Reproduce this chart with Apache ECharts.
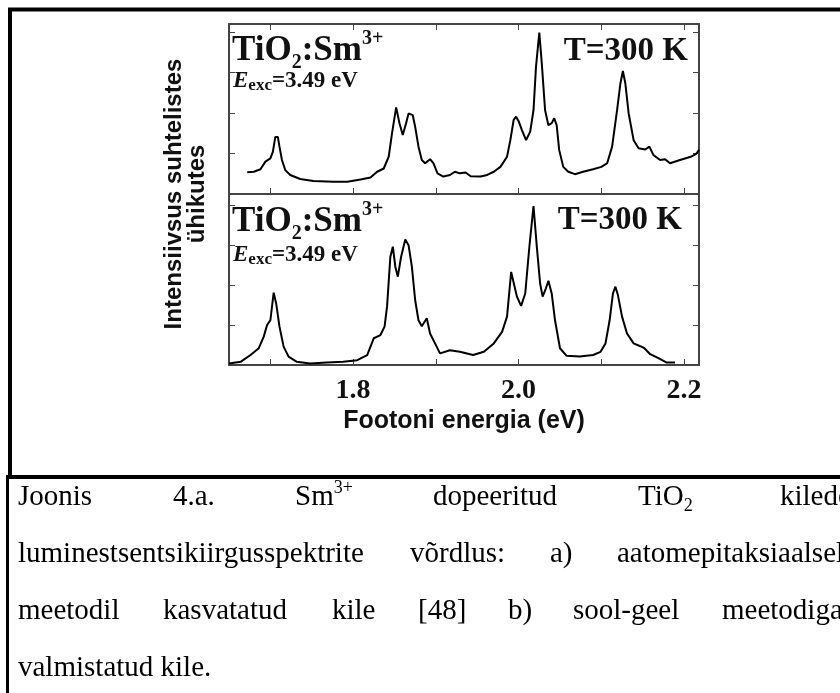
<!DOCTYPE html>
<html>
<head>
<meta charset="utf-8">
<script src="https://cdn.jsdelivr.net/npm/echarts/dist/echarts.min.js"></script>
<style>
html, body { margin: 0; padding: 0; background: #fff; }
#main { width: 840px; height: 693px; }
</style>
</head>
<body>
<div id="main"></div>
<script>
// spectra: photon energy (eV) / intensity (rel. units)
var topEnergy = [1.672, 1.680, 1.688, 1.694, 1.700, 1.703, 1.706, 1.709, 1.711, 1.714, 1.718, 1.724, 1.736, 1.752,
  1.776, 1.793, 1.809, 1.821, 1.829, 1.837, 1.843, 1.847, 1.852, 1.856, 1.860, 1.864, 1.867, 1.872, 1.875, 1.879,
  1.883, 1.887, 1.893, 1.897, 1.902, 1.909, 1.917, 1.923, 1.929, 1.936, 1.942, 1.954, 1.962, 1.970, 1.978, 1.986,
  1.990, 1.994, 1.997, 2.000, 2.004, 2.009, 2.014, 2.018, 2.021, 2.025, 2.028, 2.032, 2.036, 2.040, 2.043, 2.046,
  2.049, 2.054, 2.060, 2.068, 2.078, 2.090, 2.100, 2.107, 2.113, 2.119, 2.123, 2.126, 2.129, 2.133, 2.139, 2.145,
  2.153, 2.158, 2.163, 2.171, 2.177, 2.183, 2.195, 2.208, 2.215, 2.218];
var topIntensity = [0.54, 0.55, 0.61, 0.80, 0.88, 1.04, 1.41, 1.41, 1.17, 0.84, 0.59, 0.47, 0.37, 0.32,
  0.30, 0.30, 0.36, 0.41, 0.55, 0.63, 0.92, 1.50, 2.14, 1.75, 1.46, 1.75, 1.99, 1.95, 1.66, 1.17,
  0.84, 0.76, 0.86, 0.76, 0.51, 0.43, 0.47, 0.55, 0.51, 0.53, 0.44, 0.43, 0.47, 0.55, 0.67, 0.92,
  1.33, 1.83, 1.91, 1.80, 1.58, 1.33, 1.54, 2.07, 3.14, 3.99, 3.23, 2.07, 1.70, 1.75, 1.87, 1.70,
  1.09, 0.67, 0.55, 0.49, 0.55, 0.61, 0.67, 0.76, 1.17, 2.07, 2.73, 3.04, 2.73, 1.99, 1.33, 1.13,
  1.10, 1.17, 0.96, 0.84, 0.86, 0.76, 0.84, 0.92, 1.00, 1.09];

var bottomEnergy = [1.650, 1.664, 1.676, 1.686, 1.692, 1.696, 1.700, 1.704, 1.707, 1.711, 1.716, 1.722, 1.732, 1.748,
  1.768, 1.788, 1.805, 1.817, 1.825, 1.833, 1.838, 1.841, 1.845, 1.848, 1.851, 1.854, 1.858, 1.863, 1.867, 1.871,
  1.875, 1.879, 1.883, 1.889, 1.893, 1.899, 1.905, 1.917, 1.929, 1.945, 1.958, 1.970, 1.980, 1.986, 1.991, 1.998,
  2.003, 2.008, 2.013, 2.018, 2.022, 2.026, 2.029, 2.033, 2.036, 2.040, 2.044, 2.050, 2.058, 2.074, 2.090, 2.099,
  2.105, 2.110, 2.114, 2.117, 2.120, 2.125, 2.131, 2.139, 2.147, 2.152, 2.159, 2.169, 2.179, 2.189];
var bottomIntensity = [0.04, 0.08, 0.25, 0.42, 0.71, 1.00, 1.12, 1.81, 1.54, 0.96, 0.46, 0.21, 0.08, 0.04,
  0.06, 0.08, 0.12, 0.25, 0.67, 0.75, 0.96, 1.46, 2.71, 2.96, 2.46, 2.21, 2.71, 3.14, 3.00, 2.46,
  1.62, 1.12, 0.97, 1.17, 0.79, 0.54, 0.29, 0.37, 0.33, 0.25, 0.33, 0.54, 0.83, 1.21, 2.33, 1.71,
  1.48, 1.79, 2.96, 3.98, 2.96, 2.04, 1.71, 1.92, 2.11, 1.79, 1.12, 0.42, 0.23, 0.21, 0.25, 0.33,
  0.54, 1.12, 1.79, 1.96, 1.75, 1.21, 0.79, 0.54, 0.47, 0.42, 0.27, 0.17, 0.06, 0.06];

var xTicks = [1.7, 1.8, 1.9, 2.0, 2.1, 2.2];
var xLabels = [1.8, 2.0, 2.2];
var yTicks = [1, 2, 3, 4];

var serif = '"Liberation Serif", "Times New Roman", serif';
var sans = '"Liberation Sans", Arial, sans-serif';
var frameColor = '#444';

function pairs(xs, ys) {
  var out = [];
  for (var i = 0; i < xs.length; i++) out.push([xs[i], ys[i]]);
  return out;
}

function xAxisFor(grid, pos, ticks) {
  return {
    type: 'value', gridIndex: grid, position: pos, min: 1.65, max: 2.218,
    axisLine: { show: true, onZero: false, lineStyle: { color: frameColor, width: 2 } },
    axisTick: { show: ticks, inside: true, length: 6, customValues: xTicks, lineStyle: { color: frameColor, width: 1 } },
    axisLabel: { show: false },
    splitLine: { show: false }
  };
}

function yAxisFor(grid, pos, max) {
  return {
    type: 'value', gridIndex: grid, position: pos, min: 0, max: max,
    axisLine: { show: true, onZero: false, lineStyle: { color: frameColor, width: 2 } },
    axisTick: { show: true, inside: true, length: 6, customValues: yTicks, lineStyle: { color: frameColor, width: 1 } },
    axisLabel: { show: false },
    splitLine: { show: false }
  };
}

var bottomX = xAxisFor(1, 'bottom', true);
bottomX.axisLabel = {
  show: true, customValues: xLabels, margin: 12, color: '#111',
  fontFamily: serif, fontWeight: 'bold', fontSize: 28,
  formatter: function (v) { return v.toFixed(1); }
};
bottomX.name = 'Footoni energia (eV)';
bottomX.nameLocation = 'middle';
bottomX.nameGap = 44;
bottomX.nameTextStyle = { fontFamily: sans, fontWeight: 'bold', fontSize: 25, color: '#111' };

// caption words, placed one by one because the text is justified past the right edge
var captionFont = '29px ' + serif;
var captionRich = {
  p: { fontSize: 18, fontFamily: serif, lineHeight: 22, verticalAlign: 'top' },
  b: { fontSize: 18, fontFamily: serif, lineHeight: 18, verticalAlign: 'bottom' }
};
var captionLines = [
  { y: 497, words: [['Joonis', 18], ['4.a.', 173], ['Sm{p|3+}', 295], ['dopeeritud', 433], ['TiO{b|2}', 638], ['kilede', 780]] },
  { y: 554, words: [['luminestsentsikiirgusspektrite', 18], ['võrdlus:', 410], ['a)', 550], ['aatomepitaksiaalsel', 617]] },
  { y: 611, words: [['meetodil', 18], ['kasvatatud', 163], ['kile', 332], ['[48]', 418], ['b)', 508], ['sool-geel', 573], ['meetodiga', 722]] },
  { y: 668, words: [['valmistatud kile.', 18]] }
];

var graphics = [
  { type: 'line', shape: { x1: 8, y1: 9.5, x2: 840, y2: 9.5 }, style: { stroke: '#000', lineWidth: 4 } },
  { type: 'line', shape: { x1: 10, y1: 8, x2: 10, y2: 479 }, style: { stroke: '#000', lineWidth: 4 } },
  { type: 'line', shape: { x1: 6, y1: 477, x2: 840, y2: 477 }, style: { stroke: '#000', lineWidth: 4 } },
  { type: 'line', shape: { x1: 7.5, y1: 477, x2: 7.5, y2: 693 }, style: { stroke: '#000', lineWidth: 3 } },
  {
    type: 'text', x: 186, y: 194, rotation: Math.PI / 2,
    style: { text: 'Intensiivsus suhtelistes\nühikutes', font: 'bold 24px ' + sans, fill: '#111',
      align: 'center', verticalAlign: 'middle', lineHeight: 23 }
  }
];

// panel annotations
var formulaRich = {
  p: { fontSize: 20, fontFamily: serif, fontWeight: 'bold', lineHeight: 30, verticalAlign: 'top' },
  b: { fontSize: 20, fontFamily: serif, fontWeight: 'bold', lineHeight: 19, verticalAlign: 'bottom' },
  e: { fontSize: 23, fontFamily: serif, fontWeight: 'bold', fontStyle: 'italic', lineHeight: 26 },
  s: { fontSize: 17, fontFamily: serif, fontWeight: 'bold', lineHeight: 12, verticalAlign: 'bottom' }
};
[[232, 29, 68, 51.6, 688], [232, 200, 242, 220, 682]].forEach(function (p) {
  graphics.push({
    type: 'text', x: p[0], y: p[1],
    style: { text: 'TiO{b|2}:Sm{p|3+}', font: 'bold 35px ' + serif, fill: '#111', lineHeight: 44,
      verticalAlign: 'top', rich: formulaRich }
  });
  graphics.push({
    type: 'text', x: p[0] + 1, y: p[2],
    style: { text: '{e|E}{s|exc}=3.49 eV', font: 'bold 23px ' + serif, fill: '#111', lineHeight: 26,
      verticalAlign: 'top', rich: formulaRich }
  });
  graphics.push({
    type: 'text', x: p[4], y: p[3],
    style: { text: 'T=300 K', font: 'bold 33px ' + serif, fill: '#111', align: 'right', verticalAlign: 'middle' }
  });
});

captionLines.forEach(function (line) {
  line.words.forEach(function (w) {
    graphics.push({
      type: 'text', x: w[1], y: line.y,
      style: { text: w[0], font: captionFont, fill: '#000', lineHeight: 36,
        verticalAlign: 'middle', rich: captionRich }
    });
  });
});

var chart = echarts.init(document.getElementById('main'));
var option = {
  animation: false,
  backgroundColor: '#fff',
  grid: [
    { left: 229, top: 24, width: 470, height: 170 },
    { left: 229, top: 194, width: 470, height: 171 }
  ],
  xAxis: [
    xAxisFor(0, 'bottom', true),
    xAxisFor(0, 'top', true),
    bottomX,
    xAxisFor(1, 'top', false)
  ],
  yAxis: [
    yAxisFor(0, 'left', 4.2),
    yAxisFor(0, 'right', 4.2),
    yAxisFor(1, 'left', 4.28),
    yAxisFor(1, 'right', 4.28)
  ],
  series: [
    {
      type: 'line', xAxisIndex: 0, yAxisIndex: 0, data: pairs(topEnergy, topIntensity),
      showSymbol: false, symbol: 'none', lineStyle: { color: '#000', width: 2 }
    },
    {
      type: 'line', xAxisIndex: 2, yAxisIndex: 2, data: pairs(bottomEnergy, bottomIntensity),
      showSymbol: false, symbol: 'none', lineStyle: { color: '#000', width: 2 }
    }
  ],
  graphic: graphics
};
chart.setOption(option);
</script>
</body>
</html>
